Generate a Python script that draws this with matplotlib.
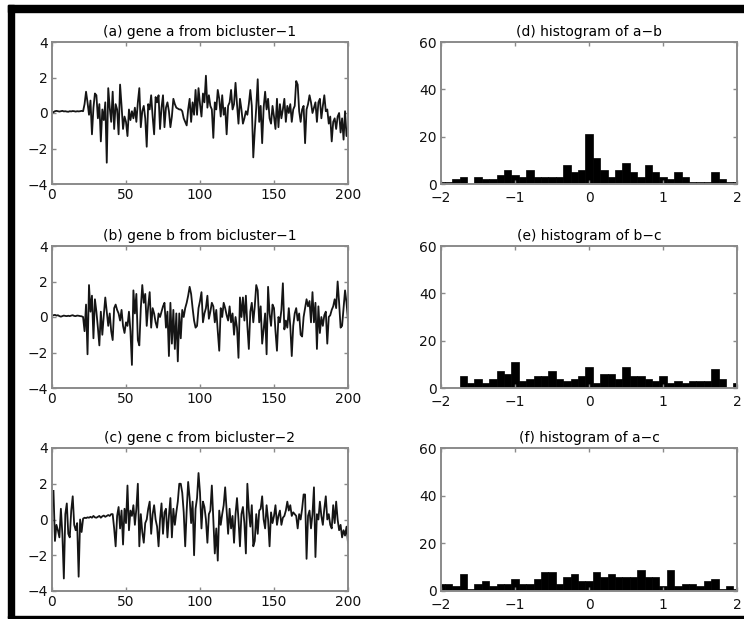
import numpy as np
import matplotlib
matplotlib.use("Agg")
from matplotlib import pyplot as plt
from matplotlib.patches import Rectangle

plt.rcParams['font.family'] = ['DejaVu Sans']

# gene expression profiles, 200 conditions each
gene_a = [0.05, 0.1, 0.12, 0.1, 0.08, 0.1, 0.12, 0.09, 0.1, 0.08,
          0.07, 0.1, 0.09, 0.11, 0.1, 0.08, 0.1, 0.09, 0.1, 0.12,
          0.1, 0.5, 1.2, 0.6, -0.1, 0.7, -1.2, 0.3, 1.1, 1.0,
          -0.3, 0.5, -1.6, 0.2, -0.4, 0.6, -2.8, 1.4, 0.3, -0.5,
          1.2, -0.9, 0.5, 0.2, -1.2, 1.6, 0.4, -0.9, -0.2, -0.5,
          -1.3, 0.2, -0.4, 0.1, -0.3, 0.3, -0.5, 0.6, 1.4, -0.8,
          0.1, 0.4, -0.3, -1.9, 0.5, 0.2, 1.0, -0.2, -1.2, 0.9,
          0.6, 1.0, -0.9, 0.3, 1.0, -0.8, 0.3, 0.6, 0.1, -0.8,
          -0.2, 0.8, 0.5, 0.3, 0.25, 0.2, 0.2, 0.1, -0.3, -0.5,
          -0.7, 0.2, 0.8, -0.5, 0.6, -0.1, 1.3, -0.1, 1.4, 0.5,
          -0.2, 1.1, 0.6, 2.1, 0.3, 1.0, 0.4, 0.2, -1.4, 0.6,
          0.2, 1.3, 0.8, -0.2, 1.0, -0.1, 0.3, -1.2, 0.4, 0.6,
          1.3, 0.2, 0.5, 1.7, 0.5, -0.6, 0.8, 0.2, -0.6, -0.3,
          0.1, -0.1, 0.5, 1.3, 0.4, -2.5, -1.0, 0.3, 1.9, -0.5,
          0.4, -1.7, 0.3, 1.2, 0.2, 0.8, -0.3, -0.6, 0.4, -0.2,
          -0.9, 0.8, -0.8, 0.5, -0.3, 0.2, 0.8, -0.5, 0.4, 0.0,
          0.5, -0.5, 0.2, 0.4, 1.8, 1.6, 0.1, -0.5, 0.2, 0.4,
          -1.7, 0.2, 0.5, 1.0, 0.6, 0.0, 0.3, 0.6, -0.5, 0.6,
          0.8, -0.3, 0.4, 1.0, 0.1, 0.2, -0.6, -0.2, -1.6, -0.5,
          -0.3, -0.9, -0.2, 0.0, -1.1, -0.3, -1.5, 0.1, -1.3, -0.8]

gene_b = [0.1, 0.12, 0.08, 0.1, 0.05, 0.02, 0.05, 0.08, 0.06, 0.05,
          0.07, 0.05, 0.08, 0.1, 0.06, 0.05, 0.08, 0.07, 0.05, 0.04,
          0.0, -0.8, 0.7, -2.1, 1.8, 0.3, 1.2, -1.2, 1.0, 0.3,
          -0.6, -1.6, 0.3, -1.0, 0.1, 1.1, 0.3, -0.5, 0.2, -0.8,
          -1.3, 0.5, 0.7, 0.4, 0.2, -0.2, 0.4, -0.5, -0.9, -0.3,
          -0.5, 0.3, -0.8, -2.7, 1.5, 0.2, 1.3, -1.3, -1.6, 0.5,
          1.8, 0.8, 1.3, -0.5, 0.6, 1.4, -0.6, 0.5, 0.2, -0.3,
          -0.6, 0.2, 0.0, 0.3, 0.6, 0.8, -0.6, 0.3, -2.2, 0.8,
          -1.5, 0.4, -1.8, 0.2, -2.5, 0.2, -1.2, 0.4, 0.0, 0.5,
          0.8, 1.2, 1.7, 1.3, 0.5, -0.2, -0.6, -0.5, 0.5, 0.9,
          1.4, -0.3, 0.2, 0.5, 1.2, -0.1, 0.3, 0.8, 0.6, -0.3,
          0.4, -0.8, -1.9, 0.5, 0.0, 0.8, 0.5, 0.1, -0.2, 0.6,
          -0.3, 0.2, -1.0, 0.0, -0.6, -2.3, 1.1, 0.0, 1.1, -0.2,
          1.2, -0.5, -1.8, 0.3, 0.8, -0.3, 0.6, 1.8, 1.5, -0.3,
          0.6, -1.5, -0.7, 0.2, -2.1, 1.7, 0.2, -0.5, 0.7, 0.5,
          -0.8, -1.9, 0.0, -0.3, 0.4, 1.9, -0.7, -0.2, -0.6, 0.5,
          -0.5, -2.2, -0.5, 0.2, 0.5, -0.2, 0.2, -1.0, -1.1, 0.0,
          0.5, 1.0, 0.6, 0.9, -0.3, 1.4, -0.3, 0.8, -1.8, 0.6,
          -0.9, 0.0, -0.5, 0.1, 0.3, -1.5, 0.0, 0.1, 0.4, 0.6,
          1.0, 0.5, 2.0, 0.8, -0.6, -0.5, 0.5, 1.5, 0.8, -0.2]

gene_c = [1.6, -1.2, -0.3, -0.6, -1.0, 0.6, -0.8, -3.3, 0.3, 0.9,
          -0.8, -1.0, 0.5, 1.3, -0.3, -0.6, -0.2, -3.2, 0.0, -0.7,
          0.05, 0.1, 0.08, 0.12, 0.1, 0.15, 0.1, 0.2, 0.12, 0.1,
          0.15, 0.2, 0.1, 0.18, 0.22, 0.15, 0.2, 0.25, 0.2, 0.3,
          0.3, -0.5, -1.5, 0.2, 0.7, -0.5, 0.5, -1.4, 0.6, -0.2,
          1.9, -0.6, 0.5, 0.2, 0.8, -0.3, 0.6, 2.0, -1.5, 0.3,
          -0.7, -1.3, -0.2, 0.0, 0.6, 1.0, -0.8, 0.3, 0.8, 0.0,
          -0.4, -1.5, 0.0, 0.9, -0.8, 0.4, 0.6, -1.0, 0.2, 1.2,
          -1.0, 0.6, -0.3, 0.4, 1.0, 2.0, 2.0, 1.5, 0.4, -1.5,
          0.5, 2.1, 1.2, -0.2, 1.0, -2.0, 0.6, 1.2, 2.6, 1.5,
          -0.5, 1.0, 0.7, 0.0, -1.3, 0.3, 0.5, 1.9, 0.0, -1.9,
          -0.5, -2.3, 0.5, -0.3, 0.3, 0.8, 1.8, 0.5, -0.8, 0.6,
          -0.5, 0.2, -1.3, 0.3, 1.2, 0.0, -1.5, 0.3, 0.7, -0.2,
          -1.9, 2.0, 0.5, -0.4, 0.8, -1.5, -1.2, 0.3, -0.8, 0.5,
          0.6, 1.3, 0.0, -0.5, 0.8, 0.0, -1.5, 0.4, -0.2, 0.2,
          0.8, -0.3, 0.2, 0.5, -0.3, 0.1, 0.2, 0.5, 1.0, 0.5,
          0.8, 0.2, 0.4, 0.3, 0.2, -0.5, 0.3, 0.0, 0.6, 1.4,
          1.4, -2.2, 0.2, 0.5, -0.5, 0.3, 1.8, -2.1, 0.3, 0.0,
          1.0, 0.2, -0.3, 0.6, 1.3, 0.0, 0.3, -0.3, -0.5, 0.8,
          -0.2, 1.0, 0.0, -0.6, -0.3, -1.0, -0.6, -0.9, -0.4, -1.3]

# histogram bin centres -2.0 .. 2.0 step 0.1, and counts
bin_centers = np.round(np.arange(-20, 21) * 0.1, 1)
hist_ab = [1, 1, 2, 3, 0, 3, 2, 2, 4, 6, 4, 3, 6, 3, 3, 3, 3, 8, 5, 6, 21,
           11, 6, 3, 6, 9, 5, 3, 8, 5, 3, 2, 5, 3, 1, 1, 1, 5, 2, 1, 1]
hist_bc = [0, 0, 0, 5, 2, 4, 2, 4, 7, 6, 11, 3, 4, 5, 5, 7, 4, 3, 4, 5, 9,
           2, 6, 6, 4, 9, 5, 5, 4, 3, 5, 2, 3, 2, 3, 3, 3, 8, 4, 0, 2]
hist_ac = [3, 3, 2, 7, 1, 3, 4, 2, 3, 3, 5, 3, 3, 5, 8, 8, 3, 6, 7, 4, 4,
           8, 6, 7, 6, 6, 6, 9, 6, 6, 2, 9, 2, 3, 3, 2, 4, 5, 1, 2, 1]

gene_titles = ["(a) gene a from bicluster\u22121",
               "(b) gene b from bicluster\u22121",
               "(c) gene c from bicluster\u22122"]
hist_titles = ["(d) histogram of a\u2212b",
               "(e) histogram of b\u2212c",
               "(f) histogram of a\u2212c"]

W, H = 744, 619
fig = plt.figure(figsize=(W / 100, H / 100), dpi=100)

axis_gray = '#8a8a8a'


def px_axes(x0, y0, x1, y1):
    return fig.add_axes([x0 / W, 1 - y1 / H, (x1 - x0) / W, (y1 - y0) / H])


def style(ax, xpad):
    for s in ax.spines.values():
        s.set_color(axis_gray)
        s.set_linewidth(1.4)
    ax.tick_params(direction='in', length=3, width=1, color=axis_gray,
                   top=True, right=True, labelsize=10, labelcolor='#111111')
    ax.tick_params(axis='x', pad=xpad)
    ax.tick_params(axis='y', pad=3)


rows = [(42, 184), (246, 388), (448, 591)]
x_idx = np.arange(1, 201)

for (y0, y1), series, title in zip(rows, [gene_a, gene_b, gene_c], gene_titles):
    ax = px_axes(52, y0, 348, y1)
    ax.plot(x_idx, series, color='#151515', lw=1.3)
    ax.set_xlim(0, 200)
    ax.set_ylim(-4, 4)
    ax.set_xticks([0, 50, 100, 150, 200])
    ax.set_yticks([-4, -2, 0, 2, 4])
    ax.set_title(title, fontsize=10, pad=4)
    style(ax, 3)

for (y0, y1), counts, title in zip(rows, [hist_ab, hist_bc, hist_ac], hist_titles):
    ax = px_axes(441, y0, 737, y1)
    ax.bar(bin_centers, counts, width=0.1, color='black', edgecolor='black', linewidth=0.5)
    ax.set_xlim(-2, 2)
    ax.set_ylim(0, 60)
    ax.set_xticks([-2, -1, 0, 1, 2])
    ax.set_yticks([0, 20, 40, 60])
    ax.set_title(title, fontsize=10, pad=4)
    style(ax, 5)

# black frame around the figure (left, top, bottom)
frame = [(8, 5, 6, 613), (8, 5, W - 8, 7), (8, 616, W - 8, 2)]
for x, y, w, h in frame:
    fig.patches.append(Rectangle((x / W, 1 - (y + h) / H), w / W, h / H,
                                 transform=fig.transFigure, color='black', zorder=10))

fig.savefig('out.png', dpi=100)
